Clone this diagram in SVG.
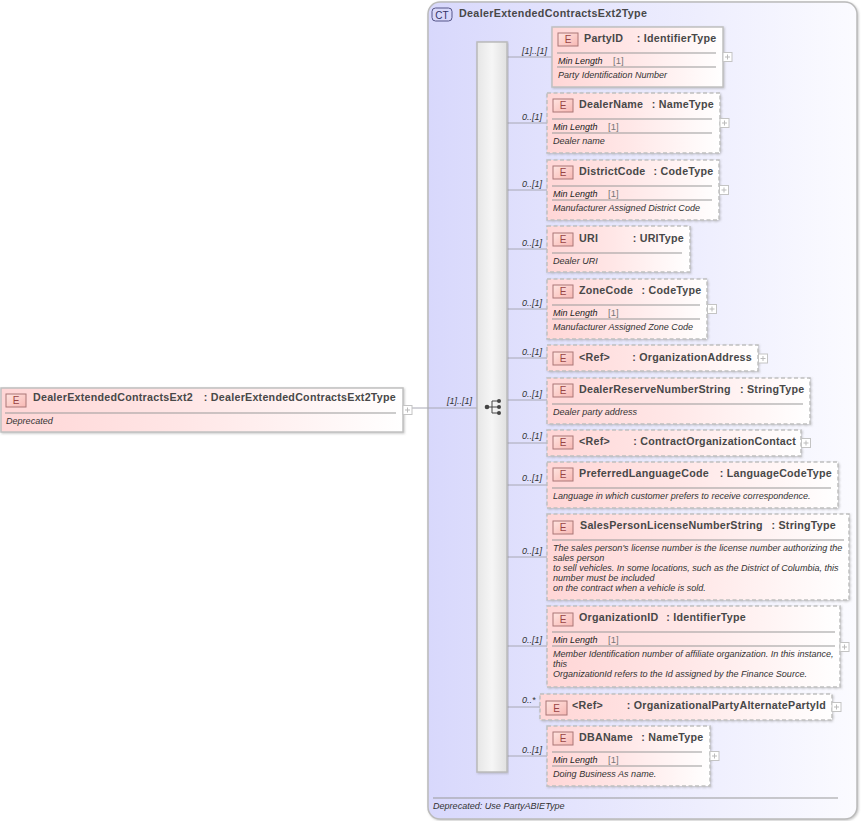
<svg xmlns="http://www.w3.org/2000/svg" width="861" height="821" viewBox="0 0 861 821">
<style>
text{font-family:"Liberation Sans",Arial,sans-serif;fill:#333}
.t{font-size:10.7px;font-weight:bold;letter-spacing:.25px;fill:#484848}
.r{text-anchor:end}
.d{font-size:9.05px;font-style:italic}
.m{font-size:9px;font-style:italic;fill:#222}
.v{font-size:9.5px;fill:#777}
.c{font-size:9px;font-style:italic}
.e{font-size:10px;fill:#944;text-anchor:middle}
.box{fill:url(#ng);stroke:#c0c0c0;stroke-width:1.5;filter:url(#sh)}
.dash{stroke-dasharray:4 2.5}
.sep{stroke:#999;stroke-width:1;fill:none}
.badge{fill:url(#bg);stroke:#a77;stroke-width:1}
.cn{stroke:#a8a8b4;stroke-width:1;fill:none}
.x{fill:#fff;stroke:#c4c4c4;stroke-width:1}
.xl{stroke:#bbb;stroke-width:1;fill:none}
</style>
<defs>
<linearGradient id="ng" x1="0" y1="0" x2="1" y2="0"><stop offset="0" stop-color="#ffd6d6"/><stop offset=".45" stop-color="#ffe6e6"/><stop offset="1" stop-color="#fff"/></linearGradient>
<linearGradient id="bg" x1="0" y1="0" x2="1" y2="1"><stop offset="0" stop-color="#ffe4e0"/><stop offset="1" stop-color="#f8b8b4"/></linearGradient>
<linearGradient id="ct" x1="0" y1="0" x2="1" y2="0"><stop offset="0" stop-color="#d8d8fc"/><stop offset="1" stop-color="#fbfbff"/></linearGradient>
<linearGradient id="bar" x1="0" y1="0" x2="1" y2="0"><stop offset="0" stop-color="#e6e6e6"/><stop offset=".5" stop-color="#f6f6f6"/><stop offset="1" stop-color="#e0e0e0"/></linearGradient>
<filter id="sh" x="-5%" y="-10%" width="110%" height="125%"><feDropShadow dx="1" dy="1" stdDeviation="1" flood-color="#888" flood-opacity=".45"/></filter>
<g id="plus"><rect class="x" x="-4.500" y="-4.500" width="9" height="9"/><path class="xl" d="M-2.500 0H2.500M0-2.500V2.500"/></g>
</defs>

<g id="type">
<rect x="428" y="2" width="429" height="817" rx="12" fill="url(#ct)" stroke="#bbb" stroke-width="1.500" filter="url(#sh)"/>
<rect x="432" y="8" width="20" height="13" rx="3.500" fill="#d8d8fa" stroke="#558" stroke-width="1"/>
<text x="442" y="18.500" font-size="10" text-anchor="middle" style="fill:#336">CT</text>
<text class="t" x="459" y="17" style="letter-spacing:.35px">DealerExtendedContractsExt2Type</text>
<path class="sep" d="M433 798H838"/>
<text class="d" x="433" y="809">Deprecated: Use PartyABIEType</text>
</g>

<g id="connectors">
<path class="cn" d="M412 408H477"/>
<path class="cn" d="M507 57H552M507 123H547M507 190H547M507 249H547M507 309H547M507 358H547M507 400H547M507 443H547M507 485H547M507 557H547M507 646H547M507 707H540M507 756H547"/>
<text class="c" x="447" y="404">[1]..[1]</text>
<text class="c" x="522" y="54">[1]..[1]</text>
<text class="c" x="522" y="120">0..[1]</text>
<text class="c" x="522" y="187">0..[1]</text>
<text class="c" x="522" y="246">0..[1]</text>
<text class="c" x="522" y="306">0..[1]</text>
<text class="c" x="522" y="355">0..[1]</text>
<text class="c" x="522" y="397">0..[1]</text>
<text class="c" x="522" y="439">0..[1]</text>
<text class="c" x="522" y="481">0..[1]</text>
<text class="c" x="522" y="554">0..[1]</text>
<text class="c" x="522" y="643">0..[1]</text>
<text class="c" x="522" y="703">0..*</text>
<text class="c" x="522" y="753">0..[1]</text>
</g>

<g id="sequence">
<rect x="477" y="42" width="30" height="730" fill="url(#bar)" stroke="#bbb" stroke-width="1.500" filter="url(#sh)"/>
<path d="M487 407H492M492 401V413M492 401H499M492 407H499M492 413H499" fill="none" stroke="#444" stroke-width="1"/>
<circle cx="487" cy="407" r="2.300" fill="#444"/><circle cx="499" cy="401" r="2" fill="#444"/><circle cx="499" cy="407" r="2" fill="#444"/><circle cx="499" cy="413" r="2" fill="#444"/>
</g>

<g id="root">
<rect class="box" x="1" y="388" width="402" height="44"/>
<rect class="badge" x="6" y="394" width="20" height="13"/><text class="e" x="16" y="404">E</text>
<text class="t" x="33" y="401">DealerExtendedContractsExt2</text>
<text class="t r" x="396" y="401">: DealerExtendedContractsExt2Type</text>
<path class="sep" d="M5 413H396"/>
<text class="d" x="6" y="424">Deprecated</text>
<use href="#plus" x="407.500" y="410"/>
</g>

<g id="n1"><rect class="box" x="552" y="27" width="171" height="60"/>
<rect class="badge" x="558" y="33" width="20" height="13"/><text class="e" x="568" y="43">E</text>
<text class="t" x="584" y="42">PartyID</text><text class="t r" x="716.500" y="42">: IdentifierType</text>
<path class="sep" d="M557 53H716M557 67H716"/>
<text class="m" x="558" y="64">Min Length</text><text class="v" x="613" y="64">[1]</text>
<text class="d" x="558" y="78">Party Identification Number</text>
<use href="#plus" x="727.500" y="57"/></g>

<g id="n2"><rect class="box dash" x="547" y="93" width="173" height="60"/>
<rect class="badge" x="553" y="99" width="20" height="13"/><text class="e" x="563" y="109">E</text>
<text class="t" x="579" y="108">DealerName</text><text class="t r" x="714" y="108">: NameType</text>
<path class="sep" d="M552 119H712M552 133H712"/>
<text class="m" x="553" y="130">Min Length</text><text class="v" x="608" y="130">[1]</text>
<text class="d" x="553" y="144">Dealer name</text>
<use href="#plus" x="724.500" y="123"/></g>

<g id="n3"><rect class="box dash" x="547" y="160" width="172" height="60"/>
<rect class="badge" x="553" y="166" width="20" height="13"/><text class="e" x="563" y="176">E</text>
<text class="t" x="579" y="175">DistrictCode</text><text class="t r" x="713.500" y="175">: CodeType</text>
<path class="sep" d="M552 186H712M552 200H712"/>
<text class="m" x="553" y="197">Min Length</text><text class="v" x="608" y="197">[1]</text>
<text class="d" x="553" y="211">Manufacturer Assigned District Code</text>
<use href="#plus" x="724" y="190"/></g>

<g id="n4"><rect class="box dash" x="547" y="226" width="143" height="46"/>
<rect class="badge" x="553" y="233" width="20" height="13"/><text class="e" x="563" y="243">E</text>
<text class="t" x="579" y="242">URI</text><text class="t r" x="684" y="242">: URIType</text>
<path class="sep" d="M552 253H682"/>
<text class="d" x="553" y="264">Dealer URI</text></g>

<g id="n5"><rect class="box dash" x="547" y="279" width="160" height="60"/>
<rect class="badge" x="553" y="285" width="20" height="13"/><text class="e" x="563" y="295">E</text>
<text class="t" x="579" y="294">ZoneCode</text><text class="t r" x="701.500" y="294">: CodeType</text>
<path class="sep" d="M552 305H700M552 319H700"/>
<text class="m" x="553" y="316">Min Length</text><text class="v" x="608" y="316">[1]</text>
<text class="d" x="553" y="330">Manufacturer Assigned Zone Code</text>
<use href="#plus" x="712" y="309"/></g>

<g id="n6"><rect class="box dash" x="547" y="345" width="211" height="26"/>
<rect class="badge" x="553" y="352" width="20" height="13"/><text class="e" x="563" y="362">E</text>
<text class="t" x="579" y="361">&lt;Ref&gt;</text><text class="t r" x="752" y="361">: OrganizationAddress</text>
<use href="#plus" x="763" y="358.500"/></g>

<g id="n7"><rect class="box dash" x="547" y="378" width="263" height="46"/>
<rect class="badge" x="553" y="384" width="20" height="13"/><text class="e" x="563" y="394">E</text>
<text class="t" x="579" y="393">DealerReserveNumberString</text><text class="t r" x="804.500" y="393">: StringType</text>
<path class="sep" d="M552 404H803"/>
<text class="d" x="553" y="415">Dealer party address</text></g>

<g id="n8"><rect class="box dash" x="547" y="430" width="254" height="26"/>
<rect class="badge" x="553" y="436" width="20" height="13"/><text class="e" x="563" y="446">E</text>
<text class="t" x="579" y="445">&lt;Ref&gt;</text><text class="t r" x="796" y="445">: ContractOrganizationContact</text>
<use href="#plus" x="806" y="443"/></g>

<g id="n9"><rect class="box dash" x="547" y="462" width="291" height="46"/>
<rect class="badge" x="553" y="468" width="20" height="13"/><text class="e" x="563" y="478">E</text>
<text class="t" x="579" y="477">PreferredLanguageCode</text><text class="t r" x="832" y="477">: LanguageCodeType</text>
<path class="sep" d="M552 488H831"/>
<text class="d" x="553" y="499">Language in which customer prefers to receive correspondence.</text></g>

<g id="n10"><rect class="box dash" x="547" y="514" width="302" height="86"/>
<rect class="badge" x="553" y="521" width="20" height="13"/><text class="e" x="563" y="531">E</text>
<text class="t" x="580" y="529">SalesPersonLicenseNumberString</text><text class="t r" x="836" y="529">: StringType</text>
<path class="sep" d="M552 540H844"/>
<text class="d" x="553" y="551">The sales person's license number is the license number authorizing the</text>
<text class="d" x="553" y="561">sales person</text>
<text class="d" x="553" y="571">to sell vehicles. In some locations, such as the District of Columbia, this</text>
<text class="d" x="553" y="581">number must be included</text>
<text class="d" x="553" y="591">on the contract when a vehicle is sold.</text></g>

<g id="n11"><rect class="box dash" x="547" y="606" width="293" height="81"/>
<rect class="badge" x="553" y="613" width="20" height="13"/><text class="e" x="563" y="623">E</text>
<text class="t" x="579" y="621">OrganizationID</text><text class="t r" x="746" y="621">: IdentifierType</text>
<path class="sep" d="M552 632H835M552 646H835"/>
<text class="m" x="553" y="643">Min Length</text><text class="v" x="608" y="643">[1]</text>
<text class="d" x="553" y="657">Member Identification number of affiliate organization. In this instance,</text>
<text class="d" x="553" y="667">this</text>
<text class="d" x="553" y="677">OrganizationId refers to the Id assigned by the Finance Source.</text>
<use href="#plus" x="844.500" y="647"/></g>

<g id="n12"><rect class="box dash" x="540" y="694" width="292" height="26"/>
<rect class="badge" x="546" y="701" width="21" height="14"/><text class="e" x="556.500" y="712">E</text>
<text class="t" x="572" y="709">&lt;Ref&gt;</text><text class="t r" x="826" y="709">: OrganizationalPartyAlternatePartyId</text>
<use href="#plus" x="836.500" y="707"/></g>

<g id="n13"><rect class="box dash" x="547" y="726" width="163" height="60"/>
<rect class="badge" x="553" y="732" width="20" height="13"/><text class="e" x="563" y="742">E</text>
<text class="t" x="579" y="741">DBAName</text><text class="t r" x="703.500" y="741">: NameType</text>
<path class="sep" d="M552 752H702M552 766H702"/>
<text class="m" x="553" y="763">Min Length</text><text class="v" x="608" y="763">[1]</text>
<text class="d" x="553" y="777">Doing Business As name.</text>
<use href="#plus" x="714.500" y="756"/></g>
</svg>
